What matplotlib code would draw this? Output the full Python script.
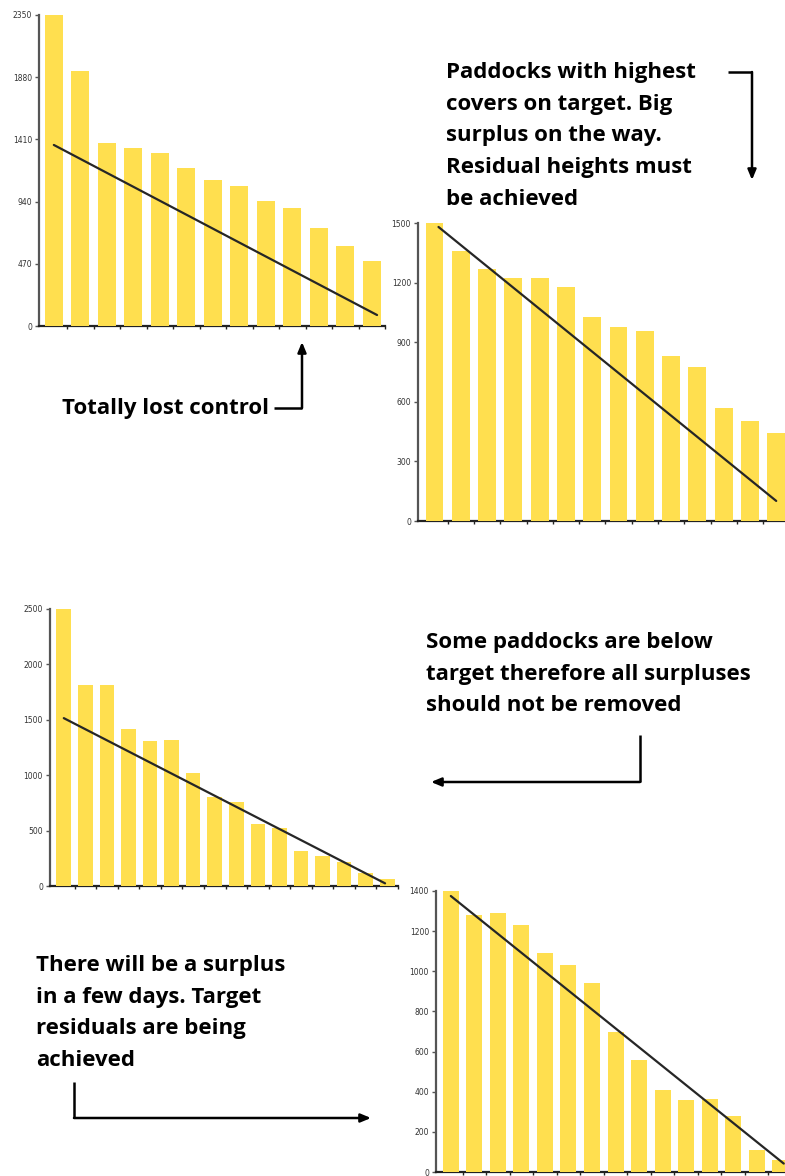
import matplotlib
matplotlib.use("Agg")
import matplotlib.pyplot as plt

# ---------------- data ----------------
c1_values = [2350, 1929, 1386, 1345, 1310, 1193, 1102, 1057, 947, 892, 737, 601, 494]
c1_ticks = [0, 470, 940, 1410, 1880, 2350]
c1_target = [1368, 83]

c2_values = [1500, 1357, 1270, 1221, 1221, 1178, 1028, 978, 957, 832, 773, 571, 502, 443]
c2_ticks = [0, 300, 600, 900, 1200, 1500]
c2_target = [1480, 101]

c3_values = [2500, 1816, 1816, 1416, 1310, 1319, 1024, 801, 756, 557, 521, 319, 274, 214, 120, 63]
c3_ticks = [0, 500, 1000, 1500, 2000, 2500]
c3_target = [1515, 24]

c4_values = [1400, 1280, 1289, 1230, 1092, 1031, 944, 700, 557, 407, 360, 365, 279, 111, 58]
c4_ticks = [0, 200, 400, 600, 800, 1000, 1200, 1400]
c4_target = [1375, 42]

note1 = "Paddocks with highest\ncovers on target. Big\nsurplus on the way.\nResidual heights must\nbe achieved"
note2 = "Totally lost control"
note3 = "Some paddocks are below\ntarget therefore all surpluses\nshould not be removed"
note4 = "There will be a surplus\nin a few days. Target\nresiduals are being\nachieved"

# ---------------- layout ----------------
W, H = 785, 1176
fig = plt.figure(figsize=(W / 100, H / 100), dpi=100)
fig.patch.set_facecolor("white")

BAR = "#FFDF4F"


def px_axes(x0, x1, ytop, ybot):
    return fig.add_axes([x0 / W, 1 - ybot / H, (x1 - x0) / W, (ybot - ytop) / H])


def draw_chart(ax, values, ticks, target, line_x, xlim):
    idx = list(range(len(values)))
    ax.bar(idx, values, width=0.68, color=BAR, zorder=3)
    ax.plot(line_x, target, color="#262626", lw=1.6, zorder=4, solid_capstyle="round")
    ax.set_xlim(*xlim)
    ax.set_ylim(0, ticks[-1])
    ax.set_yticks(ticks)
    ax.set_yticklabels([str(t) for t in ticks],
                       fontfamily=["Liberation Sans Narrow", "DejaVu Sans"],
                       fontsize=5.5, color="#333333")
    ax.set_xticks([i + 0.5 for i in idx])
    ax.set_xticklabels([])
    ax.tick_params(axis="y", direction="out", length=3, width=1.0, color="#555555", pad=2)
    ax.tick_params(axis="x", direction="out", length=2, width=1.0, color="#222222")
    for s in ("top", "right"):
        ax.spines[s].set_visible(False)
    ax.spines["left"].set_color("#555555")
    ax.spines["left"].set_linewidth(1.6)
    ax.spines["bottom"].set_color("#222222")
    ax.spines["bottom"].set_linewidth(1.6)
    ax.set_facecolor("none")


ax1 = px_axes(39, 385, 15, 326)
draw_chart(ax1, c1_values, c1_ticks, c1_target, [0, 12.2], (-0.56, 12.3))

ax2 = px_axes(418, 792, 223, 521)
draw_chart(ax2, c2_values, c2_ticks, c2_target, [0.15, 13.0], (-0.63, 13.6))

ax3 = px_axes(50, 398, 609, 886)
draw_chart(ax3, c3_values, c3_ticks, c3_target, [0, 14.9], (-0.64, 15.1))

ax4 = px_axes(436, 792, 891, 1172)
draw_chart(ax4, c4_values, c4_ticks, c4_target, [0, 14.15], (-0.63, 14.45))

# ---------------- annotation overlay ----------------
ov = fig.add_axes([0, 0, 1, 1], zorder=10)
ov.set_xlim(0, W)
ov.set_ylim(H, 0)
ov.axis("off")
ov.patch.set_alpha(0)

TXT = dict(fontfamily=["Open Sans", "DejaVu Sans"], fontweight="bold", fontsize=16,
           color="black", linespacing=1.67, va="top", ha="left")

ov.text(446, 62, note1, **TXT)
ov.text(62, 398, note2, **TXT)
ov.text(426, 632, note3, **TXT)
ov.text(36, 955, note4, **TXT)

LW = 1.8
AP = dict(arrowstyle="-|>,head_length=0.6,head_width=0.25", color="black", lw=LW,
          shrinkA=0, shrinkB=0)


def elbow(points):
    xs = [p[0] for p in points[:-1]]
    ys = [p[1] for p in points[:-1]]
    ov.plot(xs, ys, color="black", lw=LW, solid_capstyle="butt", solid_joinstyle="miter")
    ov.annotate("", xy=points[-1], xytext=points[-2], arrowprops=AP)


elbow([(728, 72), (752, 72), (752, 180)])
elbow([(274, 408), (302, 408), (302, 342)])
elbow([(640, 735), (640, 782), (431, 782)])
elbow([(74, 1082), (74, 1118), (371, 1118)])

fig.savefig("out.png", dpi=100)
